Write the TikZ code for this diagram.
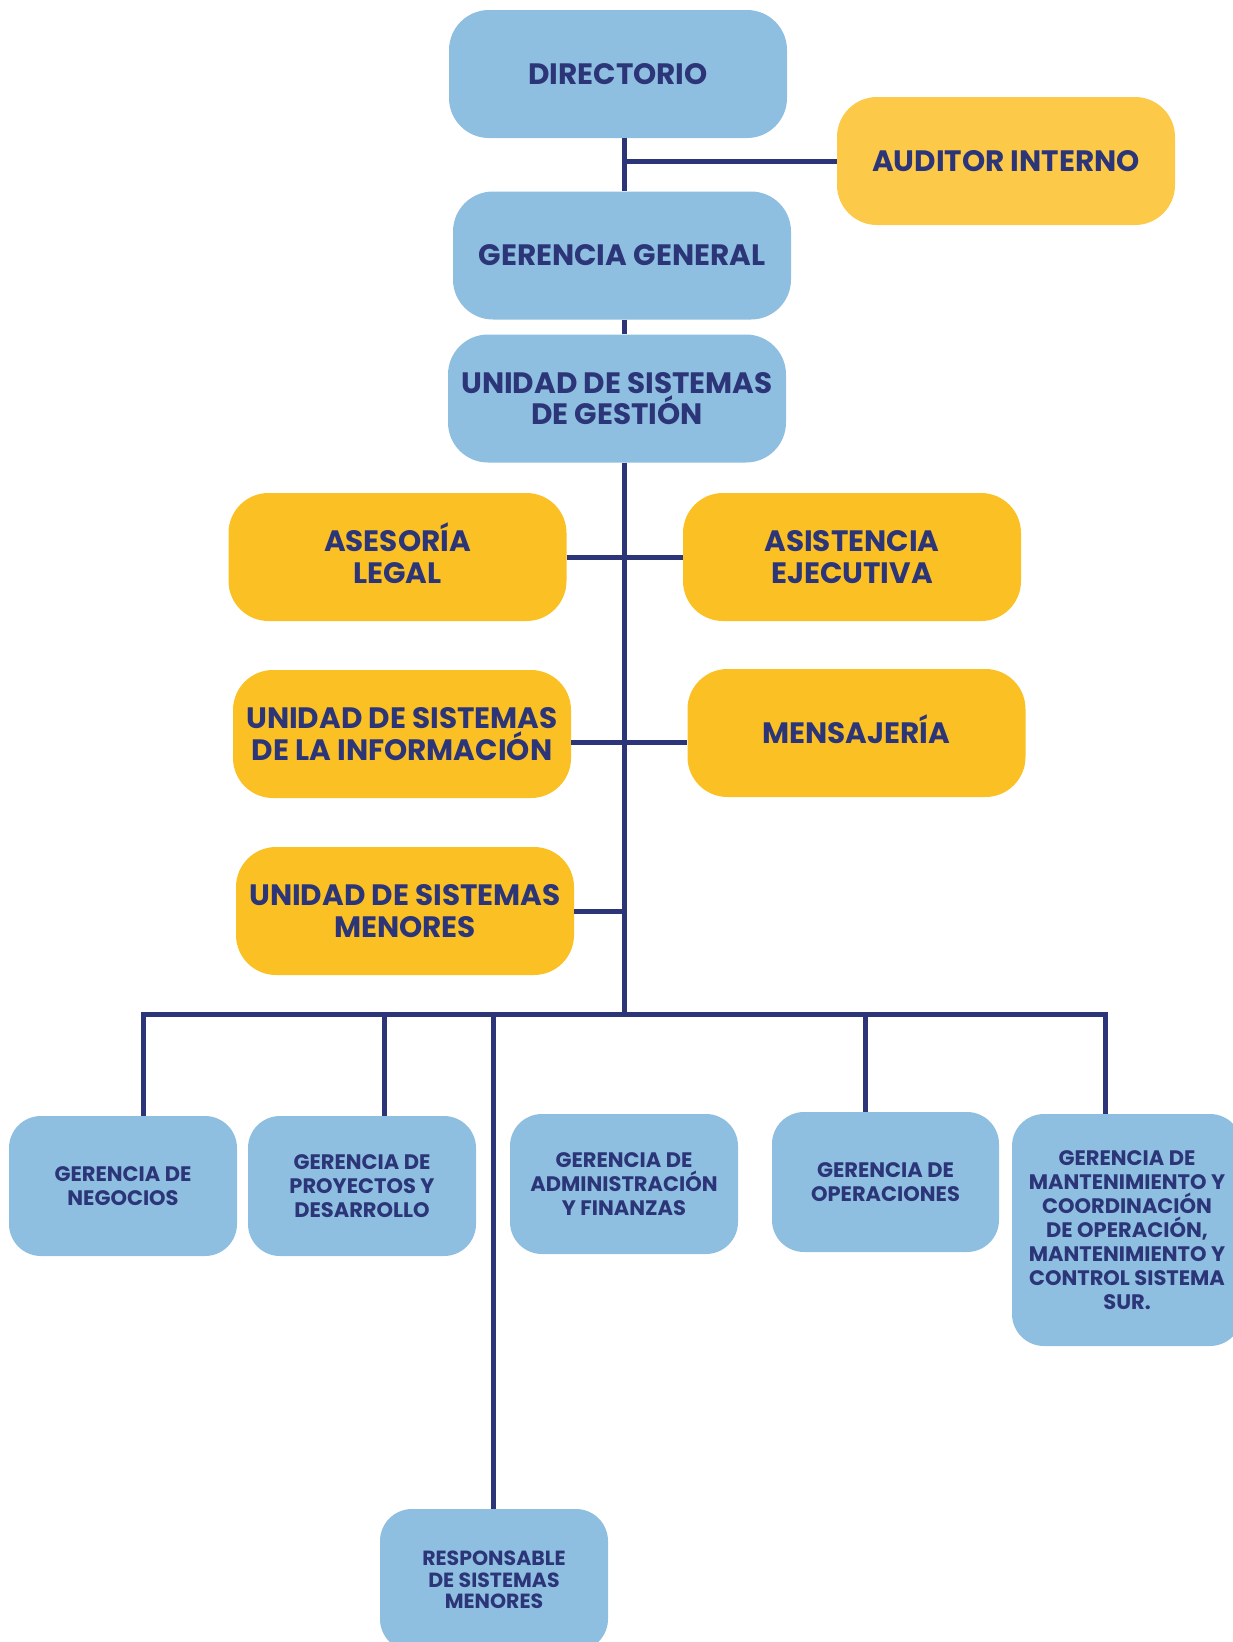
\documentclass[tikz,border=0pt]{standalone}
\usepackage{fontspec}
\setmainfont{Poppins}
\usetikzlibrary{calc}
\definecolor{bfill}{RGB}{142,191,224}
\definecolor{yfill}{RGB}{251,193,36}
\definecolor{afill}{RGB}{253,201,72}
\definecolor{navy}{RGB}{43,53,120}
\tikzset{
  bigbox/.style={rounded corners=40pt, minimum width=338pt, minimum height=128pt, inner sep=0pt,
     align=center, text=navy, font=\fontsize{29.5}{31.5}\selectfont\bfseries},
  bluebig/.style={bigbox, fill=bfill},
  yelbig/.style={bigbox, fill=yfill},
  smallbox/.style={rounded corners=32pt, fill=bfill, minimum width=228pt, minimum height=140pt, inner sep=0pt,
     align=center, text=navy, font=\fontsize{21}{24}\selectfont\bfseries},
  link/.style={draw=navy, line width=5pt}
}
\begin{document}
\begin{tikzpicture}[x=1pt,y=-1pt]
\path[use as bounding box] (0,0) rectangle (1233,1642);
\clip (0,0) rectangle (1233,1642);
% nodes
\node[bluebig] (dir) at (618,74) {DIRECTORIO};
\node[bigbox, fill=afill] (aud) at (1006,161) {AUDITOR INTERNO};
\node[bluebig] (gg) at (622,255.5) {GERENCIA GENERAL};
\node[bluebig] (usg) at (617,398.5) {UNIDAD DE SISTEMAS\\DE GESTIÓN};
\node[yelbig] (ase) at (397.5,557) {ASESOR\smash{Í}A\\LEGAL};
\node[yelbig] (asi) at (852,557) {ASISTENCIA\\EJECUTIVA};
\node[yelbig] (inf) at (402,734) {UNIDAD DE SISTEMAS\\DE LA INFORMACIÓN};
\node[yelbig] (mens) at (856.5,733) {MENSAJER\smash{Í}A};
\node[yelbig] (men) at (405,911) {UNIDAD DE SISTEMAS\\MENORES};
\node[smallbox] (neg) at (123,1186) {GERENCIA DE\\NEGOCIOS};
\node[smallbox] (pro) at (362,1186) {GERENCIA DE\\PROYECTOS Y\\DESARROLLO};
\node[smallbox] (adm) at (624,1184) {GERENCIA DE\\ADMINISTRACIÓN\\Y FINANZAS};
\node[smallbox, minimum width=227pt] (ope) at (885.5,1182) {GERENCIA DE\\OPERACIONES};
\node[smallbox, minimum width=230pt, minimum height=232pt] (man) at (1127,1230) {GERENCIA DE\\MANTENIMIENTO Y\\COORDINACIÓN\\DE OPERACIÓN,\\MANTENIMIENTO Y\\CONTROL SISTEMA\\SUR.};
\node[smallbox, minimum height=142pt, font=\fontsize{20.5}{21.5}\selectfont\bfseries] (res) at (494,1580) {RESPONSABLE\\DE SISTEMAS\\MENORES};
% spine and bus coordinates
\coordinate (sp) at (624,1014);
\coordinate (bl) at (143,1014);
\coordinate (br) at (1105,1014);
\coordinate (d2) at (384,1014);
\coordinate (d3) at (493,1014);
\coordinate (d4) at (865,1014);
% connectors
\draw[link] (dir.south -| sp) -- (gg.north -| sp);
\draw[link] (aud.west) -- (aud.west -| sp);
\draw[link] (gg.south -| sp) -- (usg.north -| sp);
\draw[link] (usg.south -| sp) -- (sp);
\draw[link] (ase.east) -- (asi.west);
\draw[link] ([yshift=-8pt]inf.east) -- ([yshift=-8pt]inf.east -| mens.west);
\draw[link] (men.east) -- (men.east -| sp);
\draw[link, line cap=rect] (bl) -- (br);
\draw[link] (bl) -- (bl |- neg.north);
\draw[link] (d2) -- (d2 |- pro.north);
\draw[link] (d3) -- (d3 |- res.north);
\draw[link] (d4) -- (d4 |- ope.north);
\draw[link] (br) -- (br |- man.north);
\end{tikzpicture}
\end{document}
